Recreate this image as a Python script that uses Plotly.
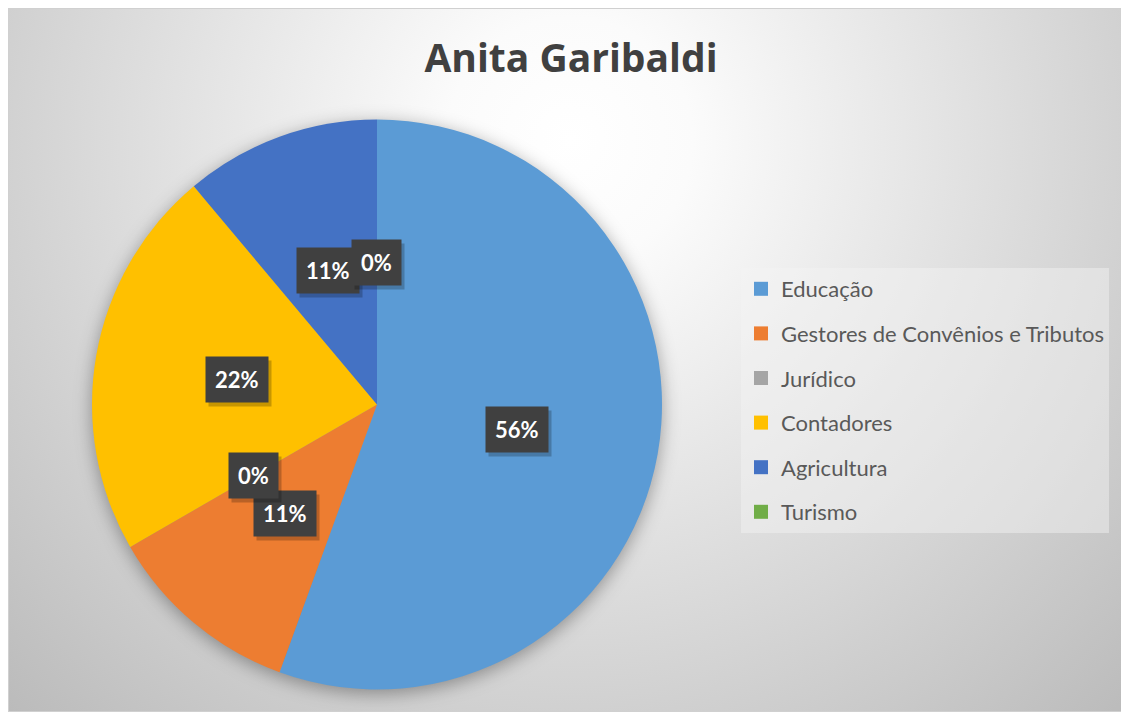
import math
import urllib.parse
import plotly.graph_objects as go

# data
categories = ['Educação', 'Gestores de Convênios e Tributos', 'Jurídico',
              'Contadores', 'Agricultura', 'Turismo']
values = [5, 1, 0, 2, 1, 0]
colors = ['#5B9BD5', '#ED7D31', '#A5A5A5', '#FFC000', '#4472C4', '#70AD47']
title_text = 'Anita Garibaldi'

# page body has an 8px margin, so the figure is a bit smaller than the window
W, H = 1117, 704
# pie geometry in figure pixels
cx, cy, r = 369, 396.5, 285

# background: radial gradient + soft shadow under the pie
svg = f'''<svg xmlns="http://www.w3.org/2000/svg" width="{W}" height="{H}">
<defs>
<radialGradient id="g" gradientUnits="userSpaceOnUse" cx="562" cy="132" r="820">
<stop offset="0" stop-color="#ffffff"/>
<stop offset="0.15" stop-color="#fbfbfb"/>
<stop offset="1" stop-color="#b9b9b9"/>
</radialGradient>
<filter id="b" x="-20%" y="-20%" width="140%" height="140%"><feGaussianBlur stdDeviation="9"/></filter>
</defs>
<rect x="0.5" y="0.5" width="{W - 1}" height="{H - 1}" fill="url(#g)" stroke="#d0d0d0" stroke-width="1"/>
<circle cx="{cx}" cy="{cy + 4}" r="{r}" fill="#000" fill-opacity="0.35" filter="url(#b)"/>
</svg>'''
bg_src = 'data:image/svg+xml;charset=utf-8,' + urllib.parse.quote(svg)

fig = go.Figure()

fig.add_trace(go.Pie(
    labels=categories,
    values=values,
    sort=False,
    direction='clockwise',
    rotation=0,
    marker=dict(colors=colors, line=dict(width=0)),
    textinfo='none',
    hoverinfo='label+percent',
    showlegend=False,
    domain=dict(x=[(cx - r) / W, (cx + r) / W],
                y=[1 - (cy + r) / H, 1 - (cy - r) / H]),
))

# legend entries
for name, c in zip(categories, colors):
    fig.add_trace(go.Scatter(
        x=[None], y=[None], mode='markers', name=name, legendgroup=name,
        marker=dict(symbol='square', size=14, color=c),
    ))

# data labels at half radius, slice midangle
total = sum(values)
annotations = []
cum = 0
for v in values:
    mid = math.radians((cum + v / 2) / total * 360)
    cum += v
    px = cx + 0.5 * r * math.sin(mid)
    py = cy - 0.5 * r * math.cos(mid)
    txt = f'{round(v / total * 100)}%'
    common = dict(x=px / W, y=1 - py / H, xref='paper', yref='paper', text=txt,
                  showarrow=False, xanchor='center', yanchor='middle', borderpad=9)
    # shadow box
    annotations.append(dict(
        common, xshift=3, yshift=-4,
        font=dict(family='Lato', size=22, color='rgba(0,0,0,0)', weight='bold'),
        bgcolor='rgba(0,0,0,0.22)',
    ))
    annotations.append(dict(
        common,
        font=dict(family='Lato', size=22, color='white', weight='bold'),
        bgcolor='#404040',
    ))

fig.update_layout(
    width=W, height=H,
    margin=dict(l=0, r=0, t=0, b=0),
    paper_bgcolor='white',
    plot_bgcolor='rgba(0,0,0,0)',
    xaxis=dict(visible=False),
    yaxis=dict(visible=False),
    title=dict(text=title_text, x=563 / W, xanchor='center', y=1 - 50 / H, yanchor='middle',
               font=dict(family='Open Sans', size=39, color='#404040', weight='bold')),
    legend=dict(
        x=733 / W, xanchor='left', y=1 - 260 / H, yanchor='top',
        bgcolor='rgba(245,245,245,0.45)',
        font=dict(family='Lato', size=22, color='#595959'),
        tracegroupgap=13,
        itemclick=False,
    ),
    annotations=annotations,
    images=[dict(source=bg_src, xref='paper', yref='paper', x=0, y=1,
                 sizex=1, sizey=1, xanchor='left', yanchor='top',
                 sizing='stretch', layer='below')],
    hovermode='closest',
)

fig.write_html('out.html')
